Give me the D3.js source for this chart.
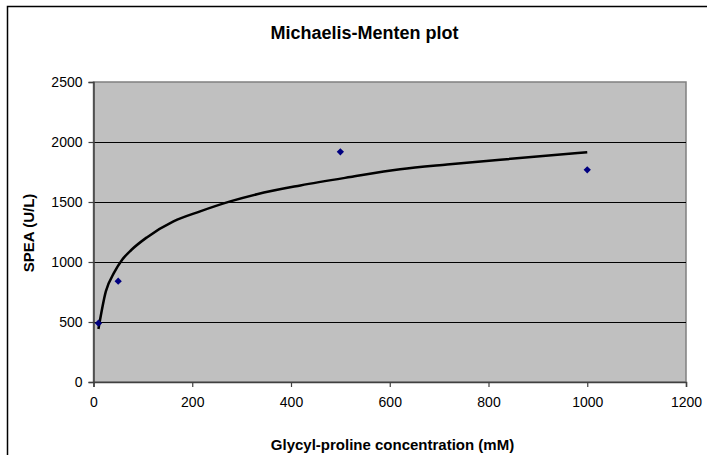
<!DOCTYPE html>
<html>
<head>
<meta charset="utf-8">
<script src="https://cdn.jsdelivr.net/npm/d3@7"></script>
<style>
  html, body { margin: 0; padding: 0; background: #fff; }
  svg { display: block; }
  text { font-family: "Liberation Sans", Arial, sans-serif; }
</style>
</head>
<body>
<svg id="chart" width="707" height="455"></svg>
<script>
// Measured data points (Glycyl-proline concentration mM, SPEA U/L)
const pointX = [10, 50, 500, 1000];
const pointY = [490, 840, 1918, 1768];

// Trendline
const curveX = [10, 25, 42, 58, 77, 108, 162, 216, 277, 331, 419, 520, 621, 716, 824, 1000];
const curveY = [442, 755, 913, 1019, 1102, 1205, 1338, 1422, 1505, 1565, 1638, 1708, 1772, 1812, 1852, 1915];

const xTicks = [0, 200, 400, 600, 800, 1000, 1200];
const yTicks = [0, 500, 1000, 1500, 2000, 2500];

const titleText = "Michaelis-Menten plot";
const xTitle = "Glycyl-proline concentration (mM)";
const yTitle = "SPEA (U/L)";

const svg = d3.select("#chart");
const W = 707, H = 455;
const plot = { left: 93.5, right: 686, top: 82, bottom: 382 };

// chart frame (extends beyond window on right/bottom)
svg.append("rect")
  .attr("x", 7.5).attr("y", 6.5)
  .attr("width", W + 20).attr("height", H + 20)
  .attr("fill", "#fff").attr("stroke", "#000").attr("stroke-width", 1.5);

const x = d3.scaleLinear().domain([0, 1200]).range([plot.left, plot.right]);
const y = d3.scaleLinear().domain([0, 2500]).range([plot.bottom, plot.top]);

// plot area
svg.append("rect")
  .attr("x", plot.left).attr("y", plot.top)
  .attr("width", plot.right - plot.left).attr("height", plot.bottom - plot.top)
  .attr("fill", "#c0c0c0").attr("stroke", "#808080").attr("stroke-width", 1.5);

// gridlines
svg.append("g")
  .selectAll("line")
  .data(yTicks.filter(v => v > 0 && v < 2500))
  .join("line")
  .attr("x1", plot.left).attr("x2", plot.right)
  .attr("y1", d => Math.round(y(d)) + 0.5).attr("y2", d => Math.round(y(d)) + 0.5)
  .attr("stroke", "#000").attr("stroke-width", 1);

// axes
const xAxis = svg.append("g")
  .attr("transform", `translate(0,${plot.bottom})`)
  .call(d3.axisBottom(x).tickValues(xTicks).tickSize(5).tickPadding(10).tickFormat(d3.format("d")));
const yAxis = svg.append("g")
  .attr("transform", `translate(${plot.left},0)`)
  .call(d3.axisLeft(y).tickValues(yTicks).tickSize(5).tickPadding(6).tickFormat(d3.format("d")));

[xAxis, yAxis].forEach(g => {
  g.select(".domain").attr("stroke", "#404040").attr("stroke-width", 1.5);
  g.selectAll(".tick line").attr("stroke", "#404040").attr("stroke-width", 1.2);
  g.selectAll(".tick text").attr("font-size", 14).attr("fill", "#000")
    .attr("font-family", "'Liberation Sans', Arial, sans-serif");
});

// trendline
const curveData = curveX.map((v, i) => [v, curveY[i]]);
svg.append("path")
  .datum(curveData)
  .attr("d", d3.line().x(d => x(d[0])).y(d => y(d[1])).curve(d3.curveMonotoneX))
  .attr("fill", "none").attr("stroke", "#000").attr("stroke-width", 2.5);

// points (diamonds)
const pts = pointX.map((v, i) => [v, pointY[i]]);
svg.append("g").selectAll("path")
  .data(pts)
  .join("path")
  .attr("d", d3.symbol().type(d3.symbolDiamond2).size(34))
  .attr("transform", d => `translate(${x(d[0])},${y(d[1])})`)
  .attr("fill", "#000080");

// titles
svg.append("text")
  .attr("x", 364.5).attr("y", 39)
  .attr("text-anchor", "middle").attr("font-size", 18).attr("font-weight", "bold")
  .text(titleText);

svg.append("text")
  .attr("x", 392.5).attr("y", 450)
  .attr("text-anchor", "middle").attr("font-size", 15).attr("font-weight", "bold")
  .text(xTitle);

svg.append("text")
  .attr("transform", "translate(34,233) rotate(-90)")
  .attr("text-anchor", "middle").attr("font-size", 15).attr("font-weight", "bold")
  .text(yTitle);
</script>
</body>
</html>
